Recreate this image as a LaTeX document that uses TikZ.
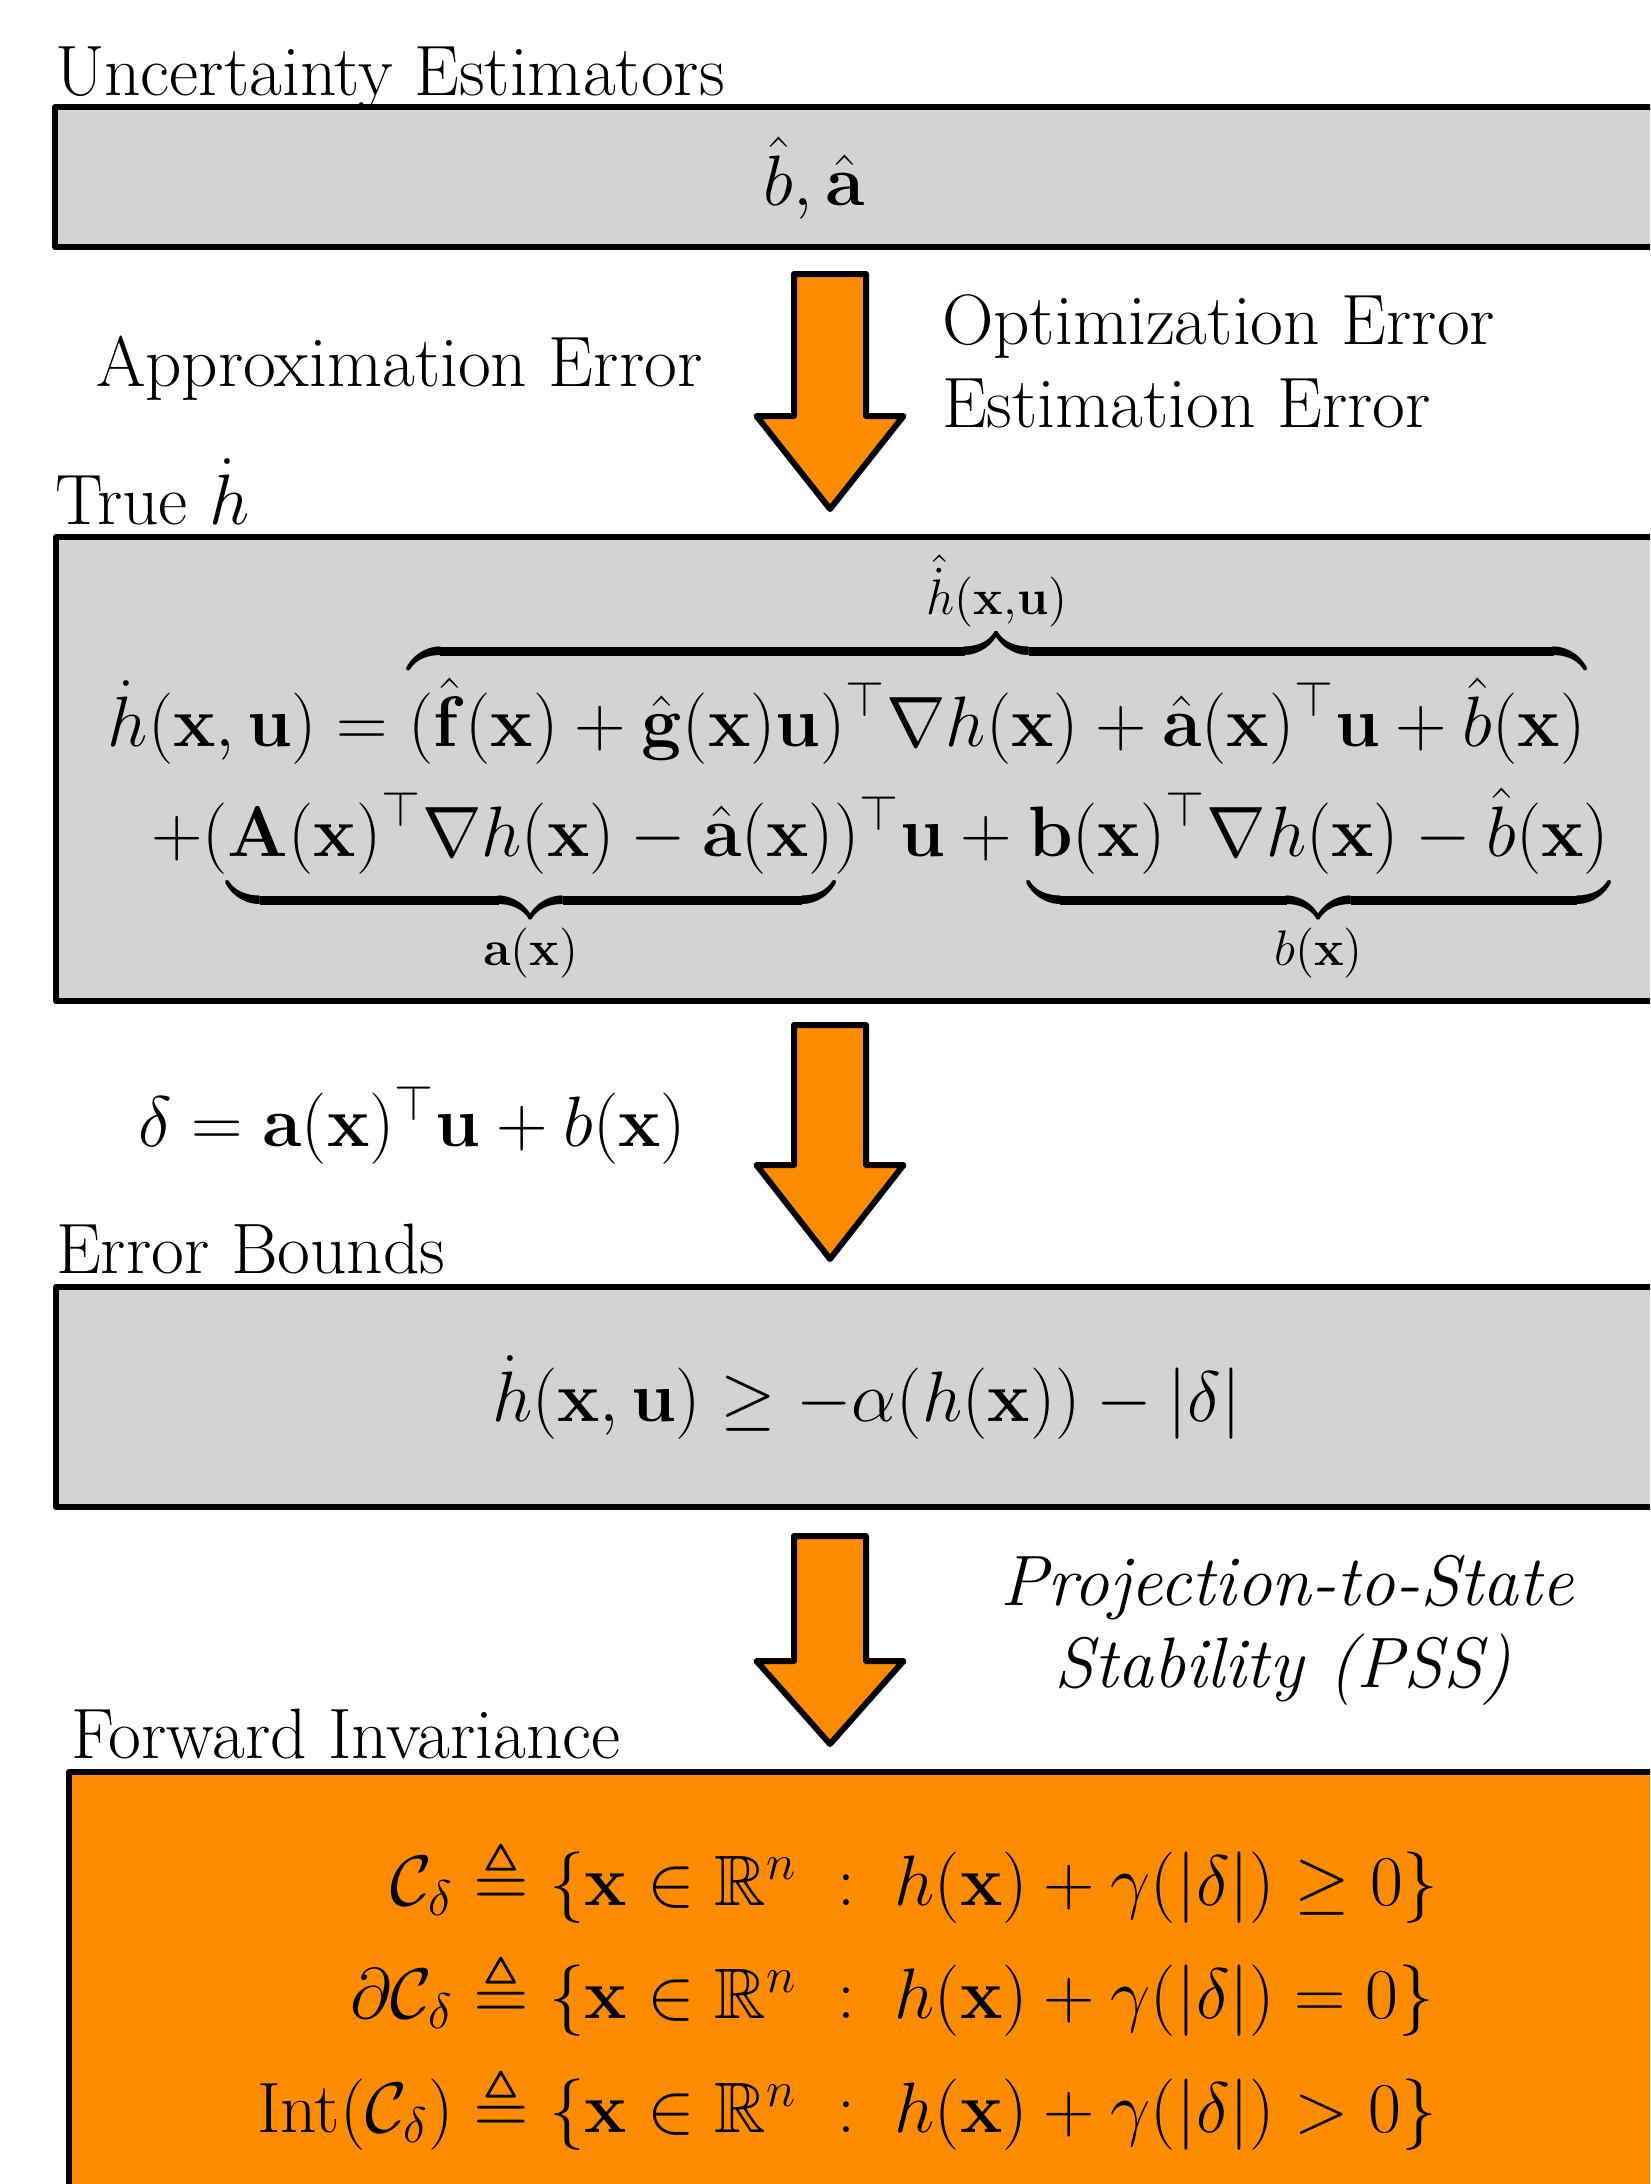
\RequirePackage{fix-cm}
\documentclass[tikz,border=0pt]{standalone}
\usepackage{amsmath,amssymb}
\definecolor{boxgray}{RGB}{211,211,211}
\definecolor{boxorange}{RGB}{255,140,0}
\newcommand\flowarrow[4]{%
  \draw[flowarrowstyle] (#1-36,#2) -- (#1+36,#2) -- (#1+36,#3) -- (#1+73.5,#3)
    -- (#1,#4) -- (#1-73.5,#3) -- (#1-36,#3) -- cycle;}
\tikzset{
  graybox/.style={draw=black, line width=1.5pt, fill=boxgray, line join=round},
  orangebox/.style={draw=black, line width=1.5pt, fill=boxorange, line join=round},
  flowarrowstyle/.style={draw=black, line width=1.5pt, fill=boxorange, line join=round},
  txt/.style={inner sep=0pt, outer sep=0pt, font=\fontsize{17.85}{22}\selectfont},
  lbl/.style={txt, anchor=base west},
  lblc/.style={txt, anchor=base},
  lble/.style={txt, anchor=base east},
}
\begin{document}
\begin{tikzpicture}[x=0.25pt,y=-0.25pt]
\useasboundingbox (0,0) rectangle (1650,2184);
\clip (0,0) rectangle (1650,2184);

% boxes
\draw[graybox] (55,107) rectangle (1720,247);
\draw[graybox] (56,537) rectangle (1720,1001);
\draw[graybox] (56,1287) rectangle (1720,1507);
\draw[orangebox] (69,1772) rectangle (1720,2260);

% arrows
\flowarrow{830}{274}{416}{509}
\flowarrow{830}{1025}{1165}{1259}
\flowarrow{830}{1536}{1661}{1744}

% labels
\node[lbl] (t1) at (55,95) {Uncertainty Estimators};
\node[lblc] (e1) at (814,205) {$\hat b,\hat{\mathbf a}$};
\node[lbl] (approx) at (96,386) {Approximation Error};
\node[lbl] (opt) at (942,344) {Optimization Error};
\node[lbl] (est) at (942,427) {Estimation Error};
\node[lbl] (t2) at (55,524) {True $\dot h$};
\node[lbl] (e2a) at (108,746) {$\dot h(\mathbf x,\mathbf u)=\overbrace{\rule{0pt}{19.6pt}(\hat{\mathbf f}(\mathbf x)+\hat{\mathbf g}(\mathbf x)\mathbf u)^\top\nabla h(\mathbf x)+\hat{\mathbf a}(\mathbf x)^\top\mathbf u+\hat b(\mathbf x)}^{\hat{\dot h}(\mathbf x,\mathbf u)}$};
\node[lbl] (e2b) at (151,856) {$+(\underbrace{\rule[-7pt]{0pt}{1pt}\mathbf A(\mathbf x)^\top\nabla h(\mathbf x)-\hat{\mathbf a}(\mathbf x)}_{\mathbf a(\mathbf x)})^\top\mathbf u+\underbrace{\rule[-7pt]{0pt}{1pt}\mathbf b(\mathbf x)^\top\nabla h(\mathbf x)-\hat b(\mathbf x)}_{b(\mathbf x)}$};
\node[lbl] (delta) at (138,1146) {$\delta=\mathbf a(\mathbf x)^\top\mathbf u+b(\mathbf x)$};
\node[lbl] (t3) at (56,1273) {Error Bounds};
\node[lbl] (e3) at (492,1421) {$\dot h(\mathbf x,\mathbf u)\geq-\alpha(h(\mathbf x))-|\delta|$};
\node[lblc] (pss1) at (1287,1605) {\itshape Projection-to-State};
\node[lblc] (pss2) at (1283,1687) {\itshape Stability (PSS)};
\node[lbl] (t4) at (71,1758) {Forward Invariance};

% set definitions
\node[lble] (c1l) at (454,1905) {$\mathcal C_\delta$};
\node[lbl]  (c1r) at (454,1905) {${}\triangleq\{\mathbf x\in\mathbb R^n\;:\;h(\mathbf x)+\gamma(|\delta|)\geq 0\}$};
\node[lble] (c2l) at (454,2018) {$\partial\mathcal C_\delta$};
\node[lbl]  (c2r) at (454,2018) {${}\triangleq\{\mathbf x\in\mathbb R^n\;:\;h(\mathbf x)+\gamma(|\delta|)=0\}$};
\node[lble] (c3l) at (454,2132) {$\mathrm{Int}(\mathcal C_\delta)$};
\node[lbl]  (c3r) at (454,2132) {${}\triangleq\{\mathbf x\in\mathbb R^n\;:\;h(\mathbf x)+\gamma(|\delta|)>0\}$};
\end{tikzpicture}
\end{document}
